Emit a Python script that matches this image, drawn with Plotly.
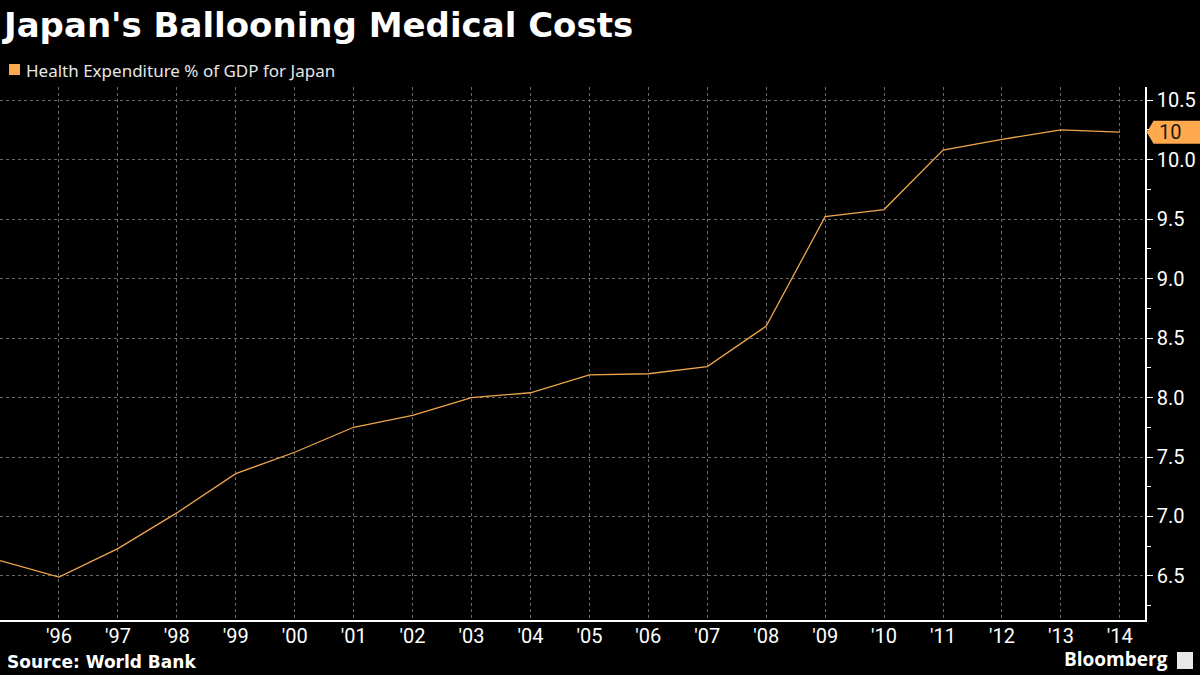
import plotly.graph_objects as go

# Health expenditure, % of GDP, Japan (World Bank)
years = list(range(1995, 2015))
health_pct_gdp = [6.63, 6.49, 6.73, 7.03, 7.36, 7.54, 7.75, 7.85, 8.00, 8.04,
                  8.19, 8.20, 8.26, 8.60, 9.52, 9.58, 10.08, 10.17, 10.25, 10.23]

tick_years = list(range(1996, 2015))
tick_labels = ["'" + str(y)[2:] for y in tick_years]
y_ticks = [6.5, 7.0, 7.5, 8.0, 8.5, 9.0, 9.5, 10.0, 10.5]

line_color = '#eea64c'
tag_color = '#ffa94f'
last_val = health_pct_gdp[-1]

fig = go.Figure()

fig.add_trace(go.Scatter(
    x=years,
    y=health_pct_gdp,
    mode='lines',
    line=dict(color=line_color, width=1.3),
    showlegend=False,
    hoverinfo='x+y',
))

# legend swatch, value tag and logo icon
shapes = [
    dict(type='rect', xref='paper', yref='paper',
         x0=9 / 1145, x1=20 / 1145, y0=(620 - 75) / 533, y1=(620 - 64) / 533,
         fillcolor=tag_color, line=dict(width=0)),
    dict(type='path', xref='paper', yref='y',
         path=(f'M 1.0015 {last_val} L 1.0075 {last_val + 0.097} '
               f'L 1.05 {last_val + 0.097} L 1.05 {last_val - 0.097} '
               f'L 1.0075 {last_val - 0.097} Z'),
         fillcolor=tag_color, line=dict(width=0)),
    dict(type='rect', xref='paper', yref='paper',
         x0=1177 / 1145, x1=1193 / 1145, y0=(620 - 669) / 533, y1=(620 - 652) / 533,
         fillcolor='#e8e8e8', line=dict(width=0)),
]

annotations = [
    dict(text='Health Expenditure % of GDP for Japan', xref='paper', yref='paper',
         x=24 / 1145, y=(620 - 70) / 533, xanchor='left', yanchor='middle',
         showarrow=False, font=dict(family='Noto Sans', size=17, color='#e6e6e6')),
    dict(text=str(round(last_val)), xref='paper', yref='y',
         x=1157 / 1145, y=last_val, xanchor='left', yanchor='middle',
         showarrow=False, font=dict(family='Roboto', size=20, color='#1a1a1a')),
    dict(text='<b>Source: World Bank</b>', xref='paper', yref='paper',
         x=5 / 1145, y=(620 - 662) / 533, xanchor='left', yanchor='middle',
         showarrow=False, font=dict(family='DejaVu Sans', size=17, color='#ffffff')),
    dict(text='<b>Bloomberg</b>', xref='paper', yref='paper',
         x=1170 / 1145, y=(620 - 674) / 533, xanchor='right', yanchor='bottom',
         showarrow=False, font=dict(family='Open Sans', size=19, color='#ffffff')),
]

fig.update_layout(
    title=dict(text="<b>Japan's Ballooning Medical Costs</b>", x=4 / 1200, xanchor='left',
               y=1 - 25 / 675, yanchor='middle',
               font=dict(family='DejaVu Sans', size=34, color='#ffffff')),
    width=1200,
    height=675,
    margin=dict(l=0, r=55, t=87, b=55),
    paper_bgcolor='#000000',
    plot_bgcolor='#000000',
    shapes=shapes,
    annotations=annotations,
    xaxis=dict(
        range=[1995, 2014.427],
        tickvals=tick_years,
        ticktext=tick_labels,
        showgrid=True,
        gridcolor='#6a6a6a',
        griddash='dot',
        gridwidth=1,
        showline=True,
        linecolor='#ffffff',
        linewidth=1.5,
        ticks='',
        ticklabelstandoff=-3,
        zeroline=False,
        tickfont=dict(family='Roboto', size=20, color='#ffffff'),
    ),
    yaxis=dict(
        side='right',
        range=[6.13, 10.61],
        tickvals=y_ticks,
        tickformat='.1f',
        showgrid=True,
        gridcolor='#6a6a6a',
        griddash='dot',
        gridwidth=1,
        showline=True,
        linecolor='#ffffff',
        linewidth=1.5,
        ticks='outside',
        ticklen=6,
        tickcolor='#ffffff',
        minor=dict(dtick=0.25, tick0=6.25, ticks='outside', ticklen=4,
                   tickcolor='#ffffff', showgrid=False),
        zeroline=False,
        tickfont=dict(family='Roboto', size=20, color='#ffffff'),
    ),
)

# drop the default page margin so the figure sits at the window's corner
fig.write_html("out.html", config={'displayModeBar': False},
               post_script="document.body.style.margin='0';")
